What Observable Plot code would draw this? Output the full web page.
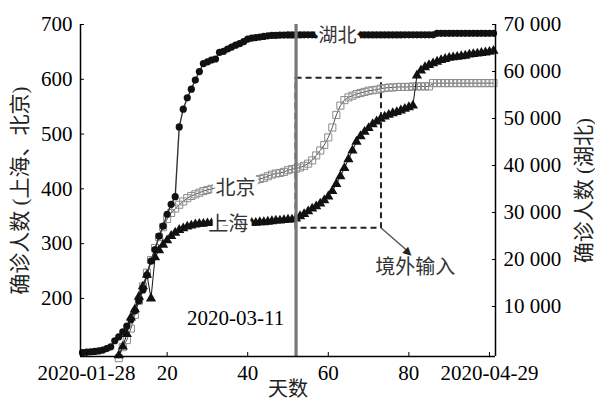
<!DOCTYPE html>
<html><head><meta charset="utf-8">
<script src="https://cdn.jsdelivr.net/npm/d3@7"></script>
<script src="https://cdn.jsdelivr.net/npm/@observablehq/plot@0.6"></script>
<style>body{margin:0;background:#fff}</style>
</head><body><div id="chart"></div>
<script>
// ---- axes / ticks ----
const xTicks = [0, 20, 40, 60, 80, 100];
const xTickLabels = ["2020-01-28", "20", "40", "60", "80", "2020-04-29"];
const leftTicks = [200, 300, 400, 500, 600, 700];
const rightTicks = [10000, 20000, 30000, 40000, 50000, 60000, 70000];
const xLabel = "天数";
const leftLabel = "确诊人数 (上海、北京)";
const rightLabel = "确诊人数 (湖北)";

// ---- series (cumulative confirmed cases by day) ----
const hubeiStartDay = -1;
const hubeiCases = [198, 270, 375, 444, 549, 729, 1052, 1423, 2714, 3554, 4586, 5806, 7153, 9074, 11177, 13522, 16678, 19665, 22112, 24953, 27100, 29631, 31728, 33366, 48206, 51986, 54406, 56249, 58182, 59989, 61682, 62031, 62442, 62662, 64084, 64287, 64786, 65187, 65596, 65914, 66337, 66907, 67103, 67217, 67332, 67466, 67592, 67666, 67707, 67743, 67760, 67773, 67781, 67786, 67790, 67794, 67798, 67799, 67800, 67800, 67800, 67800, 67801, 67801, 67801, 67801, 67801, 67801, 67801, 67801, 67801, 67802, 67802, 67802, 67802, 67802, 67802, 67802, 67802, 67802, 67803, 67803, 67803, 67803, 67803, 67803, 67803, 67803, 68128, 68128, 68128, 68128, 68128, 68128, 68128, 68128, 68128, 68128, 68128, 68128, 68128, 68128, 68128];

const beijingStartDay = 8;
const beijingCases = [91, 111, 124, 145, 170, 196, 222, 247, 270, 292, 312, 330, 345, 356, 364, 371, 377, 383, 387, 390, 393, 396, 398, 400, 401, 402, 404, 406, 407, 409, 410, 412, 413, 414, 416, 418, 420, 423, 426, 428, 429, 431, 434, 436, 437, 439, 442, 446, 452, 461, 470, 480, 494, 512, 535, 552, 562, 567, 570, 573, 575, 577, 579, 580, 581, 583, 584, 585, 585, 586, 586, 586, 586, 587, 587, 587, 587, 587, 593, 593, 593, 593, 593, 593, 593, 593, 593, 593, 593, 593, 593, 593, 593, 593];

const shanghaiStartDay = 8;
const shanghaiCases = [96, 112, 135, 165, 180, 203, 222, 243, 200, 275, 288, 298, 306, 314, 320, 325, 328, 331, 333, 335, 336, 336, 337, 337, 337, 337, 337, 337, 337, 337, 337, 338, 338, 338, 338, 339, 339, 340, 341, 342, 342, 343, 344, 344, 346, 350, 354, 359, 364, 368, 373, 379, 386, 396, 409, 423, 438, 454, 470, 486, 496, 504, 511, 518, 523, 528, 532, 535, 538, 540, 543, 546, 549, 552, 607, 616, 622, 626, 629, 632, 635, 637, 639, 640, 641, 642, 643, 645, 646, 647, 648, 649, 650, 652];

// ---- annotations ----
const markerDay = 52;                 // 2020-03-11
const markerText = "2020-03-11";
const importBox = {x1: 52, x2: 73.2, y1: 328, y2: 602};
const importArrow = {x1: 73.2, y1: 328, x2: 79.6, y2: 287};
const arrowHead = {x: 80.0, y: 284, glyph: "▶", angle: 43};
const seriesLabels = [
  {text: "湖北", day: 62.3, v: 680, size: 19},
  {text: "北京", day: 37.0, v: 401, size: 20},
  {text: "上海", day: 35.2, v: 335, size: 20}
];
const noteLabels = [
  {text: markerText, day: 37.0, v: 163, serif: true},
  {text: "境外输入", day: 81.6, v: 257, serif: false}
];

// ---- scales ----
const xDomain = [-1.5, 101.5];
const leftDomain = [94, 700];
const rightDomain = [-640, 70000];
const toLeft = v => leftDomain[0] + (v - rightDomain[0]) * (leftDomain[1] - leftDomain[0]) / (rightDomain[1] - rightDomain[0]);
const fromLeft = y => rightDomain[0] + (y - leftDomain[0]) * (rightDomain[1] - rightDomain[0]) / (leftDomain[1] - leftDomain[0]);

const hb = hubeiCases.map((v, i) => ({day: hubeiStartDay + i, v: toLeft(v)}));
const bj = beijingCases.map((v, i) => ({day: beijingStartDay + i, v}));
const sh = shanghaiCases.map((v, i) => ({day: shanghaiStartDay + i, v}));

const serif = "'Liberation Serif', 'Times New Roman', 'Noto Sans CJK SC', serif";
const cjk = "'Noto Sans CJK SC', 'Liberation Serif', sans-serif";
const spaceFmt = d => d3.format(",")(Math.round(d / 1000) * 1000).replace(/,/g, " ");

const chart = Plot.plot({
  width: 595,
  height: 407,
  marginLeft: 80,
  marginRight: 100,
  marginTop: 24,
  marginBottom: 51,
  style: {fontFamily: serif, fontSize: "21px", color: "#000", background: "#fff"},
  x: {domain: xDomain},
  y: {domain: leftDomain},
  marks: [
    // annotation box and arrow
    Plot.rect([importBox], {x1: "x1", x2: "x2", y1: "y1", y2: "y2", fill: "none", stroke: "#222", strokeWidth: 2, strokeDasharray: "6,4"}),
    Plot.link([importArrow], {x1: "x1", y1: "y1", x2: "x2", y2: "y2", stroke: "#555", strokeWidth: 1.4}),
    Plot.text([arrowHead], {x: "x", y: "y", text: "glyph", rotate: "angle", fontFamily: "'DejaVu Sans', sans-serif", fontSize: 11, fill: "#222"}),
    // Beijing
    Plot.line(bj, {x: "day", y: "v", stroke: "#555", strokeWidth: 1}),
    Plot.dot(bj, {x: "day", y: "v", symbol: "square", r: 4, stroke: "#8c8c8c", fill: "none", strokeWidth: 1}),
    // Shanghai
    Plot.line(sh, {x: "day", y: "v", stroke: "#111", strokeWidth: 1}),
    Plot.dot(sh, {x: "day", y: "v", symbol: "triangle", r: 3.8, fill: "#111", stroke: "none"}),
    // Hubei (right axis)
    Plot.line(hb, {x: "day", y: "v", stroke: "#333", strokeWidth: 1.4}),
    Plot.dot(hb, {x: "day", y: "v", r: 3.6, fill: "#111", stroke: "none"}),
    // 2020-03-11 marker line
    Plot.ruleX([markerDay], {stroke: "#777", strokeWidth: 3.2}),
    // series labels (with white halo breaking the lines)
    Plot.text(seriesLabels, {x: "day", y: "v", text: "text", fontSize: "size", fontFamily: cjk, fill: "#333", stroke: "#fff", strokeWidth: 8}),
    Plot.text(noteLabels.filter(d => d.serif), {x: "day", y: "v", text: "text", fontFamily: serif, fontSize: 21, fill: "#000"}),
    Plot.text(noteLabels.filter(d => !d.serif), {x: "day", y: "v", text: "text", fontFamily: cjk, fontSize: 20, fill: "#333"}),
    // frame lines
    Plot.ruleX([xDomain[0], xDomain[1]], {stroke: "#000", strokeWidth: 1.5}),
    Plot.ruleY([leftDomain[0]], {stroke: "#000", strokeWidth: 1.5}),
    // axes
    Plot.axisX(xTicks, {anchor: "bottom", tickFormat: d => xTickLabels[xTicks.indexOf(d)], tickSize: -4, tickPadding: 13, label: null}),
    Plot.axisY(leftTicks, {anchor: "left", tickSize: -4, tickPadding: 12, label: null}),
    Plot.axisY(rightTicks.map(toLeft), {anchor: "right", tickSize: -4, tickPadding: 12, label: null, tickFormat: d => spaceFmt(fromLeft(d))}),
    // axis titles
    Plot.text([xLabel], {frameAnchor: "bottom", dy: 39, fontFamily: cjk, fontSize: 20, fill: "#222"}),
    Plot.text([leftLabel], {frameAnchor: "left", dx: -60, rotate: -90, textAnchor: "middle", fontFamily: serif, fontSize: 21, fill: "#222"}),
    Plot.text([rightLabel], {frameAnchor: "right", dx: 89, rotate: -90, textAnchor: "middle", fontFamily: serif, fontSize: 21, fill: "#222"})
  ]
});
document.getElementById("chart").appendChild(chart);
</script>
</body></html>
